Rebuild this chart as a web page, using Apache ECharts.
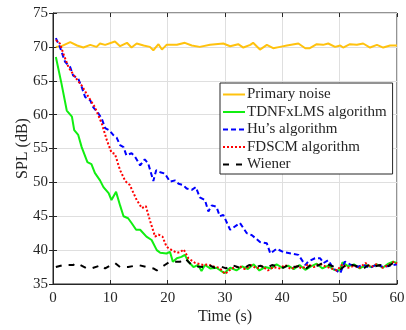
<!DOCTYPE html>
<html>
<head>
<meta charset="utf-8">
<script src="https://cdn.jsdelivr.net/npm/echarts@6/dist/echarts.min.js"></script>
<style>
  html, body { margin: 0; padding: 0; background: #fff; }
  #chart { width: 406px; height: 330px; }
</style>
</head>
<body>
<div id="chart"></div>
<script>
// time (s) and SPL (dB)
let primaryT = [0.5, 1.5, 3.0, 4.2, 5.3, 6.5, 7.6, 8.2, 9.1, 10.8, 11.7, 12.9, 13.7, 14.6, 15.8, 16.9, 17.5, 18.4, 19.0, 19.8, 21.6, 23.0, 24.2, 25.6, 27.4, 29.7, 30.9, 32.3, 33.2, 34.4, 34.9, 36.1, 37.3, 38.4, 39.6, 40.8, 42.8, 44.0, 44.8, 46.0, 47.1, 48.0, 49.2, 50.1, 50.6, 51.8, 53.0, 54.1, 55.3, 56.5, 57.6, 58.8, 60];
let primaryV = [70.0, 70.1, 70.7, 70.2, 69.9, 70.3, 70.0, 70.5, 70.3, 70.8, 70.1, 70.6, 69.9, 70.5, 70.2, 70.0, 69.5, 70.4, 69.6, 70.3, 70.3, 70.6, 70.2, 70.0, 70.3, 70.5, 70.1, 70.4, 69.9, 70.3, 70.6, 69.6, 70.3, 69.8, 70.0, 70.2, 70.5, 69.8, 69.8, 70.4, 70.3, 70.5, 70.0, 70.2, 69.9, 70.4, 70.3, 70.5, 69.9, 70.3, 69.9, 70.2, 70.2];

let tdnT = [0.5, 1.5, 2.4, 3.3, 3.7, 4.4, 5.0, 6.0, 6.7, 7.3, 8.2, 8.8, 9.7, 10.2, 11.0, 11.7, 12.3, 13.1, 13.7, 14.5, 15.2, 16.3, 17.2, 18.1, 18.7, 19.8, 20.4, 20.9, 21.6, 22.4, 23.0, 23.6, 24.5, 25.3, 25.9, 26.5, 27.4, 28.5, 29.9, 30.9, 32.0, 33.0, 34.0, 35.0, 36.0, 37.0, 38.0, 39.0, 40.0, 41.0, 42.0, 43.0, 44.0, 45.0, 46.0, 47.0, 48.0, 49.0, 50.0, 50.5, 51.5, 52.5, 53.5, 54.5, 55.5, 56.5, 57.5, 58.5, 59.3, 60];
let tdnV = [68.5, 64.5, 60.6, 59.7, 57.7, 57.0, 55.2, 53.0, 52.7, 51.4, 50.3, 49.3, 48.4, 47.4, 48.6, 46.6, 45.0, 44.7, 44.0, 43.0, 43.0, 42.0, 41.5, 40.0, 39.6, 39.5, 39.75, 38.3, 38.8, 39.0, 39.3, 38.3, 37.5, 37.8, 36.9, 37.8, 37.3, 37.4, 36.6, 37.4, 37.0, 37.6, 37.2, 37.9, 37.0, 37.5, 37.3, 37.9, 37.4, 37.7, 37.2, 37.8, 37.1, 37.6, 38.0, 37.3, 37.7, 37.1, 37.0, 38.2, 37.6, 37.9, 37.3, 37.8, 37.5, 37.9, 37.4, 38.0, 38.3, 38.1];

let huT = [0.5, 1.2, 2.1, 3.0, 3.5, 4.4, 5.0, 5.6, 6.5, 7.0, 7.9, 8.5, 9.1, 9.8, 10.5, 11.1, 11.7, 12.3, 12.8, 13.7, 14.3, 15.2, 16.0, 16.6, 17.5, 18.0, 18.7, 19.5, 20.4, 21.3, 21.9, 22.7, 23.3, 24.2, 24.9, 25.6, 26.5, 27.1, 27.7, 28.5, 29.1, 29.7, 30.9, 32.6, 33.8, 34.7, 36.1, 37.3, 37.9, 39.0, 40.2, 41.6, 42.8, 44.0, 44.5, 45.7, 46.6, 47.2, 48.0, 48.9, 50.1, 50.9, 51.8, 53.0, 54.1, 55.3, 56.5, 57.6, 58.8, 60];
let huV = [71.3, 70.0, 67.8, 67.0, 65.8, 65.3, 64.1, 62.6, 62.1, 61.1, 60.2, 59.4, 58.0, 57.7, 57.0, 56.6, 55.5, 55.2, 54.0, 54.3, 53.8, 52.5, 53.4, 52.8, 50.2, 51.8, 51.5, 51.3, 50.1, 50.3, 49.8, 49.6, 49.1, 48.9, 49.3, 47.8, 47.4, 45.7, 46.6, 46.4, 45.0, 45.2, 43.0, 44.0, 42.5, 42.2, 41.2, 41.0, 39.5, 40.2, 39.7, 39.5, 39.3, 37.8, 38.3, 38.8, 38.8, 38.1, 38.5, 37.3, 36.6, 38.3, 37.9, 37.5, 37.8, 37.4, 37.9, 37.5, 37.7, 37.9];

let fdsT = [0.5, 1.2, 1.8, 2.7, 3.8, 5.0, 6.2, 7.3, 8.5, 9.4, 10.2, 10.8, 11.7, 12.6, 13.4, 14.6, 15.5, 16.2, 16.9, 17.8, 18.4, 19.1, 19.8, 20.7, 21.6, 22.2, 22.8, 23.6, 24.8, 26.2, 27.0, 28.0, 29.0, 30.0, 31.2, 32.6, 33.5, 34.5, 35.5, 36.5, 37.5, 38.5, 39.5, 40.5, 41.5, 42.5, 43.5, 44.5, 45.5, 46.5, 47.5, 48.5, 49.5, 50.5, 51.5, 52.5, 53.5, 54.5, 55.5, 56.5, 57.5, 58.5, 59.5, 60];
let fdsV = [71.0, 70.5, 69.0, 67.0, 65.6, 64.3, 62.6, 61.1, 58.7, 56.2, 54.4, 54.2, 51.8, 50.2, 49.6, 47.4, 46.2, 46.5, 44.4, 42.0, 42.3, 42.0, 40.5, 40.0, 39.6, 39.7, 40.1, 38.8, 38.1, 37.8, 37.9, 37.6, 37.4, 36.5, 37.3, 37.6, 37.2, 37.8, 37.3, 37.6, 37.0, 37.5, 37.3, 37.8, 37.2, 37.6, 37.3, 37.9, 37.5, 38.0, 37.6, 37.3, 37.0, 37.9, 37.4, 37.7, 37.4, 38.1, 37.5, 38.0, 37.4, 37.8, 38.3, 38.0];

let wienerT = [0.5, 1.8, 3.5, 4.1, 5.9, 6.7, 8.5, 9.1, 10.8, 11.7, 13.1, 14.9, 16.3, 17.5, 18.1, 19.5, 20.4, 22.2, 23.0, 24.2, 25.2, 26.2, 27.2, 28.2, 29.2, 30.2, 31.2, 32.2, 33.2, 34.2, 35.2, 36.2, 37.2, 38.2, 39.2, 40.2, 41.2, 42.2, 43.2, 44.2, 45.2, 46.2, 47.2, 48.2, 49.2, 50.2, 51.2, 52.2, 53.2, 54.2, 55.2, 56.2, 57.2, 58.2, 59.2, 60];
let wienerV = [37.5, 37.8, 37.8, 38.1, 37.3, 37.3, 37.8, 37.3, 38.1, 37.5, 37.5, 37.8, 37.5, 37.3, 37.0, 37.8, 38.3, 38.3, 38.8, 37.8, 37.6, 37.5, 37.8, 37.4, 37.6, 37.3, 37.8, 37.5, 37.3, 37.8, 37.5, 37.7, 37.3, 37.8, 37.6, 37.4, 37.9, 37.5, 37.7, 37.3, 38.0, 37.7, 38.2, 37.8, 37.5, 37.2, 37.9, 37.8, 37.6, 37.3, 37.9, 37.6, 37.8, 37.5, 38.0, 37.8];

let names = ["Primary noise", "TDNFxLMS algorithm", "Hu\u2019s algorithm", "FDSCM algorithm", "Wiener"];
let xTicks = [0, 10, 20, 30, 40, 50, 60];
let yTicks = [35, 40, 45, 50, 55, 60, 65, 70, 75];

function pairs(t, v) {
  return t.map(function (x, i) { return [x, v[i]]; });
}

var font = "'Liberation Serif', 'Times New Roman', serif";
var ink = "#262626";

function line(name, data, color, type, width) {
  return {
    name: name,
    type: "line",
    data: data,
    symbol: "none",
    lineStyle: { color: color, type: type, width: width },
    itemStyle: { color: color },
    animation: false,
  };
}

var myChart = echarts.init(document.getElementById("chart"));

var xBase = {
  type: "value",
  min: xTicks[0],
  max: xTicks[xTicks.length - 1],
  interval: 10,
};
var yBase = {
  type: "value",
  min: yTicks[0],
  max: yTicks[yTicks.length - 1],
  interval: 5,
};

option = {
  backgroundColor: "#fff",
  textStyle: { fontFamily: font },
  grid: {
    left: 53, right: 9, top: 13, bottom: 46,
    outerBoundsMode: "none",
    show: true, borderColor: ink, borderWidth: 1, backgroundColor: "#fff",
  },
  xAxis: [
    Object.assign({}, xBase, {
      name: "Time (s)",
      nameLocation: "middle",
      nameGap: 25,
      nameMoveOverlap: false,
      nameTextStyle: { fontFamily: font, fontSize: 16, color: ink },
      axisLine: { lineStyle: { color: ink } },
      axisTick: { inside: true, length: 4, lineStyle: { color: ink } },
      axisLabel: { fontFamily: font, fontSize: 15, color: ink, margin: 7 },
      splitLine: { show: true, lineStyle: { color: "#dfdfdf" } },
    }),
    Object.assign({}, xBase, {
      position: "top",
      axisLine: { show: false },
      axisTick: { inside: true, length: 4, lineStyle: { color: ink } },
      axisLabel: { show: false },
      splitLine: { show: false },
    }),
  ],
  yAxis: [
    Object.assign({}, yBase, {
      name: "SPL (dB)",
      nameLocation: "middle",
      nameGap: 22,
      nameMoveOverlap: false,
      nameTextStyle: { fontFamily: font, fontSize: 16, color: ink },
      axisLine: { show: true, lineStyle: { color: ink } },
      axisTick: { show: true, inside: true, length: 4, lineStyle: { color: ink } },
      axisLabel: { fontFamily: font, fontSize: 15, color: ink, margin: 5 },
      splitLine: { show: true, lineStyle: { color: "#dfdfdf" } },
    }),
    Object.assign({}, yBase, {
      position: "right",
      axisLine: { show: false },
      axisTick: { show: true, inside: true, length: 4, lineStyle: { color: ink } },
      axisLabel: { show: false },
      splitLine: { show: false },
    }),
  ],
  legend: {
    orient: "vertical",
    left: 220,
    top: 83,
    data: names,
    backgroundColor: "#fff",
    borderColor: ink,
    borderWidth: 1,
    borderRadius: 0,
    padding: [4, 6, 2, 2],
    itemWidth: 22,
    itemHeight: 15,
    itemGap: 2.5,
    itemStyle: { opacity: 0 },
    textStyle: { fontFamily: font, fontSize: 15, color: ink, padding: [0, 0, 0, -3] },
  },
  series: [
    line(names[0], pairs(primaryT, primaryV), "#FFC20E", "solid", 2),
    line(names[1], pairs(tdnT, tdnV), "#11EE11", "solid", 2),
    line(names[2], pairs(huT, huV), "#0000FF", [5, 3], 2),
    line(names[3], pairs(fdsT, fdsV), "#FF0000", [2, 2], 2),
    line(names[4], pairs(wienerT, wienerV), "#000000", [6, 7], 2),
  ],
};
myChart.setOption(option);
</script>
</body>
</html>
